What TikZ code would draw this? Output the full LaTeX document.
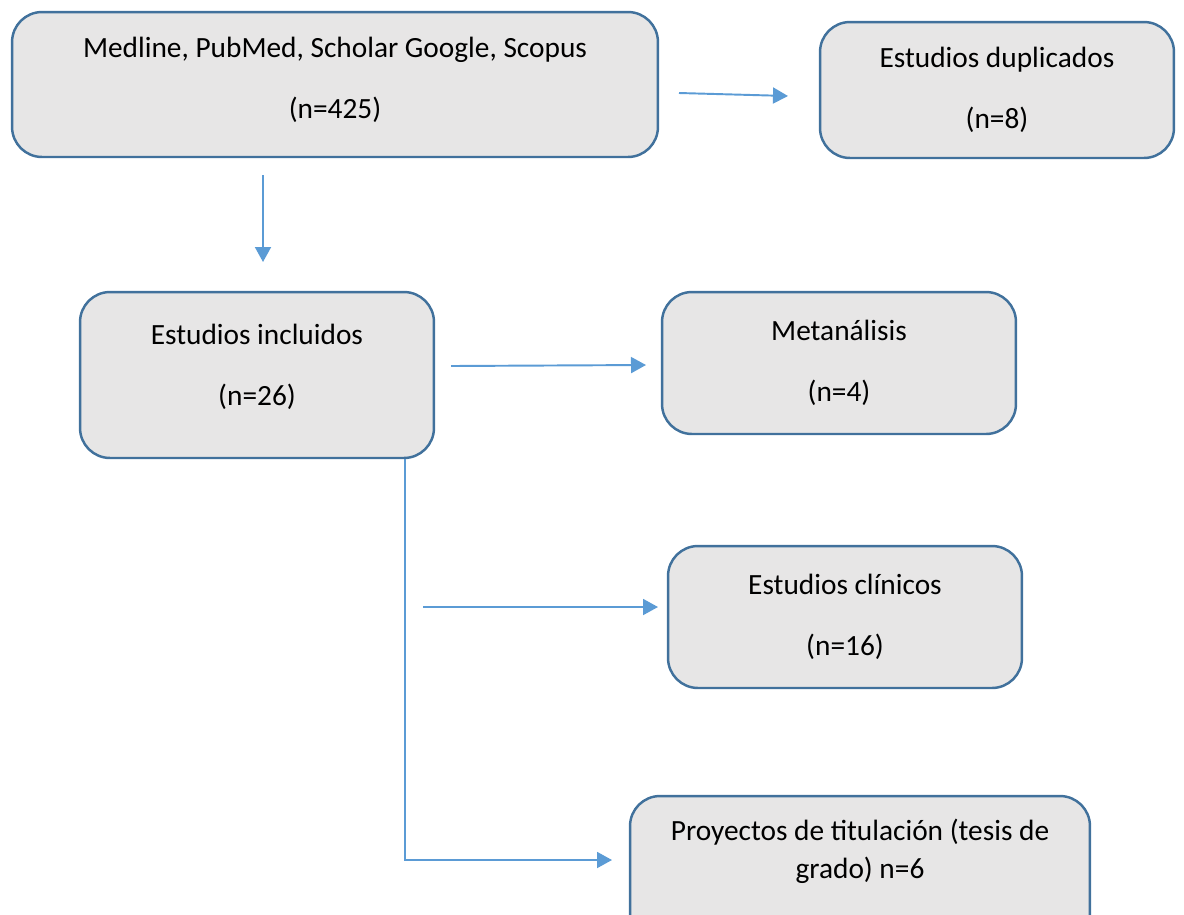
\documentclass[tikz,border=0pt]{standalone}
\usepackage{fontspec}
\setmainfont{Carlito}
\usetikzlibrary{arrows.meta}
\definecolor{boxfill}{HTML}{E7E6E6}
\definecolor{boxline}{HTML}{41719C}
\definecolor{arr}{HTML}{5B9BD5}
\begin{document}
\begin{tikzpicture}[x=0.02cm,y=-0.02cm,
  box/.style={draw=boxline, fill=boxfill, line width=1.4pt, rounded corners=0.6cm, align=center, font=\fontsize{16.7}{20}\selectfont, inner sep=0pt},
  txt/.style={align=center, font=\fontsize{16.7}{20}\selectfont, inner sep=0pt},
  conn/.style={draw=arr, line width=1.1pt, -{Triangle[length=0.3cm,width=0.32cm]}}]
\useasboundingbox (0,0) rectangle (1184,914);
\clip (0,0) rectangle (1184,914);

\node[box, minimum width=12.92cm, minimum height=2.9cm] (A) at (335,84.5) {};
\node[txt] (Atext) at (335,80) {Medline, PubMed, Scholar Google, Scopus\\[14.7pt](n=425)};
\node[box, minimum width=7.08cm, minimum height=2.72cm] (B) at (997,90) {Estudios duplicados\\[14.7pt](n=8)};
\node[box, minimum width=7.08cm, minimum height=3.32cm] (C) at (257,375) {};
\node[txt] (Ctext) at (257,366.5) {Estudios incluidos\\[14.7pt](n=26)};
\node[box, minimum width=7.08cm, minimum height=2.84cm] (D) at (839,363) {Metanálisis\\[14.7pt](n=4)};
\node[box, minimum width=7.08cm, minimum height=2.84cm] (E) at (845,617) {Estudios clínicos\\[14.7pt](n=16)};
\node[box, minimum width=9.2cm, minimum height=3.08cm] (F) at (860,873) {};
\node[txt] (Ftext) at (860,851) {Proyectos de titulación (tesis de\\[1.5pt]grado) n=6};

\coordinate (a1) at (679,93);
\coordinate (a2) at (788,96);
\coordinate (b1) at (263,175);
\coordinate (b2) at (263,262);
\coordinate (c1) at (451,366);
\coordinate (c2) at (646,365);
\coordinate (d1) at (423,607);
\coordinate (d2) at (658,607);
\coordinate (e0) at (405,0);
\coordinate (f1) at (612,860);

\draw[conn] (a1) -- (a2);
\draw[conn] (b1) -- (b2);
\draw[conn] (c1) -- (c2);
\draw[conn] (d1) -- (d2);
\draw[conn] (C.south -| e0) |- (f1);
\end{tikzpicture}
\end{document}
